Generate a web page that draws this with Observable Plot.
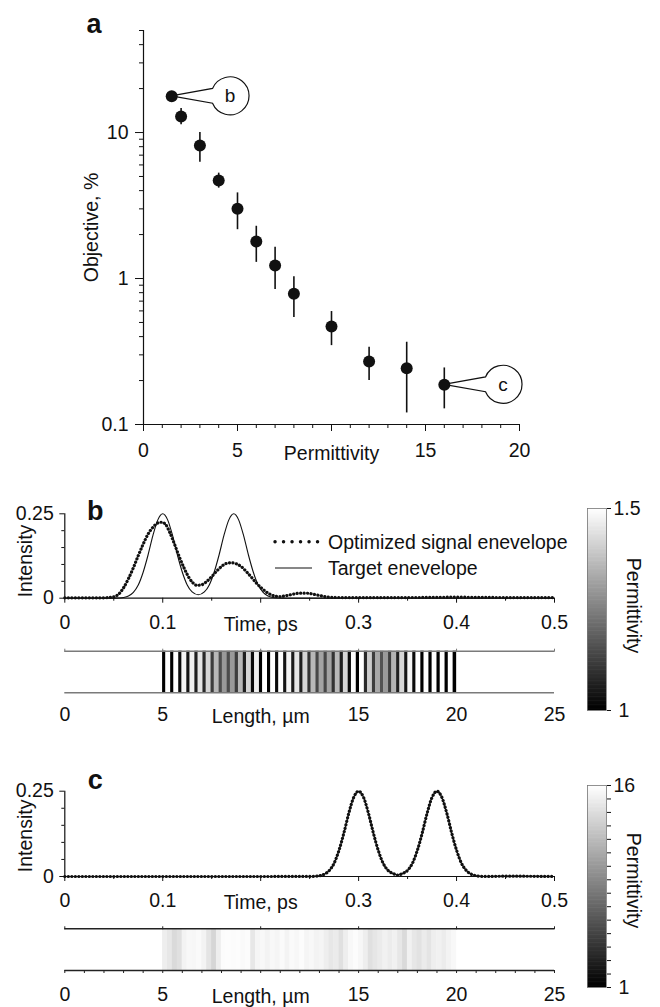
<!DOCTYPE html>
<html><head><meta charset="utf-8">
<script src="https://cdn.jsdelivr.net/npm/d3@7"></script>
<script src="https://cdn.jsdelivr.net/npm/@observablehq/plot@0.6"></script>
<style>
html,body{margin:0;padding:0;background:#fff;}
#fig{position:relative;width:660px;height:1007px;overflow:hidden;font-family:"Liberation Sans",Arial,Helvetica,sans-serif;color:#111;}
</style></head><body><div id="fig"></div>
<script>
// ---------------- DATA ----------------
// Panel a: objective vs permittivity (log scale)
const perm      = [1.5, 2, 3, 4, 5, 6, 7, 8, 10, 12, 14, 16];
const objective = [17.7, 12.9, 8.15, 4.69, 3.0, 1.79, 1.23, 0.785, 0.469, 0.270, 0.243, 0.187];
const errLow    = [null, 11.3, 6.26, 4.16, 2.16, 1.29, 0.84, 0.54, 0.347, 0.20, 0.12, 0.128];
const errHigh   = [null, 14.6, 10.0, 5.27, 3.86, 2.28, 1.64, 1.03, 0.594, 0.338, 0.366, 0.244];
const callouts  = [{label: "b", perm: 1.5, obj: 17.7, cx: 4.63}, {label: "c", perm: 16, obj: 0.187, cx: 19.15}];
const aMajorY = [0.1, 1, 10];
const aMinorY = [0.2,0.3,0.4,0.5,0.6,0.7,0.8,0.9,2,3,4,5,6,7,8,9,20,30,40,50];
const aMajorX = [0, 5, 15, 20];
const aMinorX = [1,2,3,4,6,7,8,9,11,12,13,14,16,17,18,19];

// Panel b: target and optimized envelopes
const tTargetB = [0,0.05,0.055,0.06,0.065,0.07,0.075,0.08,0.085,0.09,0.095,0.1,0.105,0.11,0.115,0.12,0.125,0.13,0.13625,0.1425,0.1475,0.1525,0.1575,0.1625,0.1675,0.1725,0.1775,0.1825,0.1875,0.1925,0.1975,0.2025,0.2075,0.2125,0.2175,0.2225,0.23,0.5];
const targetB  = [0,0.0001,0.0006,0.0022,0.0067,0.0174,0.039,0.077,0.128,0.186,0.232,0.25,0.232,0.186,0.128,0.077,0.0393,0.0186,0.0102,0.0186,0.0393,0.077,0.128,0.186,0.232,0.25,0.232,0.186,0.128,0.077,0.039,0.0174,0.0067,0.0022,0.0006,0.0001,0,0];
const tOptB = [0,0.04,0.045,0.05,0.055,0.06,0.065,0.07,0.075,0.08,0.085,0.09,0.095,0.0985,0.1025,0.107,0.112,0.117,0.122,0.127,0.131,0.135,0.14,0.145,0.15,0.155,0.16,0.165,0.17,0.175,0.18,0.185,0.19,0.195,0.2,0.205,0.21,0.215,0.22,0.225,0.23,0.235,0.24,0.245,0.25,0.255,0.26,0.265,0.27,0.28,0.3,0.35,0.4,0.45,0.5];
const optB  = [0.001,0.001,0.002,0.004,0.012,0.031,0.058,0.090,0.126,0.160,0.190,0.210,0.223,0.225,0.220,0.196,0.160,0.122,0.088,0.060,0.045,0.038,0.040,0.050,0.064,0.080,0.094,0.103,0.105,0.102,0.094,0.080,0.064,0.047,0.032,0.020,0.011,0.006,0.005,0.007,0.010,0.013,0.015,0.015,0.014,0.011,0.008,0.005,0.003,0.002,0.002,0.002,0.003,0.002,0.002];

// Panel b: layered structure (low / high permittivity layers from 5 to 20 um, ending with a low layer)
const layerStartB = 5, layerLowThick = 0.165, layerHighThick = 0.247;
const lowEpsB  = [1.0,1.0,1.02,1.04,1.06, 1.08,1.12,1.15,1.15,1.12,1.06, 1.02,1.0,1.0,1.02,1.04,1.05, 1.06,1.1,1.14,1.14,1.1,1.06, 1.02,1.0, 1.08,1.12,1.16,1.12,1.06, 1.04,1.02,1.0,1.0,1.0,1.0,1.0];
const highEpsB = [1.5,1.5,1.48,1.47,1.45, 1.42,1.36,1.3,1.3,1.36,1.42, 1.47,1.5,1.5,1.5,1.48,1.45, 1.42,1.36,1.32,1.32,1.36,1.42, 1.5,1.5, 1.4,1.33,1.3,1.35,1.42, 1.48,1.5,1.5,1.5,1.5,1.5];

// Panel c: envelope (optimized matches target)
const tC = [0,0.25,0.255,0.26,0.265,0.27,0.275,0.28,0.285,0.29,0.295,0.3,0.305,0.31,0.315,0.32,0.325,0.33,0.335,0.34,0.345,0.35,0.355,0.36,0.365,0.37,0.375,0.38,0.385,0.39,0.395,0.4,0.405,0.41,0.415,0.42,0.425,0.43,0.45,0.5];
const intC = [0,0.0001,0.0006,0.0022,0.0067,0.0174,0.039,0.077,0.128,0.186,0.232,0.25,0.232,0.186,0.128,0.077,0.0391,0.018,0.0089,0.0044,0.0089,0.018,0.0391,0.077,0.128,0.186,0.232,0.25,0.232,0.186,0.128,0.077,0.039,0.0174,0.0067,0.0022,0.0006,0.0001,0.001,0];

// Panel c: permittivity profile, 0.25 um segments from 5 to 20 um
const segStartC = 5, segThickC = 0.25;
const epsC = [15.0,14.6,13.8,14.2,15.3,15.6,15.5,15.7,15.3,14.4,13.6,15.0,15.8,15.9,15.8,15.9,15.7,15.8,14.6,15.4,
              15.6,15.3,15.6,15.4,15.7,15.3,15.7,15.5,15.8,15.4,15.6,15.3,15.4,15.0,14.6,14.8,14.2,15.0,15.6,15.8,
              15.5,15.0,14.2,14.5,14.8,15.2,14.9,15.2,14.6,13.8,15.2,14.6,14.3,14.8,14.4,15.0,15.2,14.9,15.3,15.6];

const timeTicksMajor = [0, 0.1, 0.3, 0.4, 0.5];
const timeTicksMinor = [0.05, 0.15, 0.25, 0.35, 0.45];
const lengthTicks = [0, 5, 15, 20, 25];
const lengthTop = [0, 5, 10, 15, 20, 25];
const lengthMinor = [0,1,2,3,4,5,6,7,8,9,10,11,12,13,14,15,16,17,18,19,20,21,22,23,24,25];
const intMinor = [0.05, 0.1, 0.15, 0.2];

// ---------------- HELPERS ----------------
const fig = document.getElementById("fig");
const FONT = '"Liberation Sans", Arial, Helvetica, sans-serif';
const style = {fontFamily: FONT, fontSize: "19.5px", color: "#111", background: "transparent", overflow: "visible"};
function place(node, left, top) {
  node.style.position = "absolute";
  node.style.left = left + "px";
  node.style.top = top + "px";
  fig.appendChild(node);
}
const grayInterp = t => d3.interpolateRgb("#000", "#fff")(t);
const blank = () => "";
const centered = {textAnchor: "middle", lineAnchor: "middle"};

function calloutMark(data) {
  return (index, scales) => {
    const g = d3.create("svg:g");
    const r = 19, half = 0.4;
    for (const d of data) {
      const px = scales.x(d.perm), py = scales.y(d.obj), cx = scales.x(d.cx);
      const ax = cx - r * Math.cos(half);
      const ay1 = py - r * Math.sin(half), ay2 = py + r * Math.sin(half);
      g.append("path")
        .attr("d", `M${px},${py}L${ax},${ay1}A${r},${r} 0 1 1 ${ax},${ay2}Z`)
        .attr("fill", "#fff").attr("stroke", "#111").attr("stroke-width", 1.2);
      g.append("text").attr("x", cx).attr("y", py).attr("dy", "0.35em")
        .attr("text-anchor", "middle").attr("fill", "#111").attr("font-size", 19).text(d.label);
    }
    return g.node();
  };
}

// ---------------- PANEL A ----------------
const aData = perm.map((p, i) => ({perm: p, obj: objective[i], lo: errLow[i], hi: errHigh[i]}));
const pa = Plot.plot({
  width: 560, height: 480,
  marginLeft: 143, marginRight: 41, marginTop: 30, marginBottom: 56,
  style,
  x: {domain: [0, 20], label: null},
  y: {type: "log", domain: [0.1, 50], label: null},
  marks: [
    Plot.ruleX([0], {stroke: "#111", strokeWidth: 1.2}),
    Plot.ruleY([0.1], {stroke: "#111", strokeWidth: 1.2}),
    Plot.axisY({ticks: aMajorY, tickSize: 8, tickPadding: 7, tickFormat: d => String(d), label: null}),
    Plot.axisY({ticks: aMinorY, tickSize: 4, tickFormat: blank, label: null}),
    Plot.axisX({ticks: aMajorX, tickSize: 7, tickPadding: 12, tickFormat: d => String(d), label: null}),
    Plot.axisX({ticks: [10], tickSize: 7, tickPadding: 15, tickFormat: () => "Permittivity", label: null}),
    Plot.axisX({ticks: aMinorX, tickSize: 4, tickFormat: blank, label: null}),
    Plot.text(["Objective, %"], {text: d => d, frameAnchor: "left", rotate: -90, dx: -52, ...centered}),
    Plot.text(["a"], {text: d => d, frameAnchor: "top-left", dx: -49.5, dy: -6.6, fontWeight: "bold", fontSize: 27, ...centered}),
    calloutMark(callouts),
    Plot.ruleX(aData.filter(d => d.lo != null), {x: "perm", y1: "lo", y2: "hi", stroke: "#111", strokeWidth: 1.6}),
    Plot.dot(aData, {x: "perm", y: "obj", r: 6, fill: "#111", stroke: "none"})
  ]
});
place(pa, 0, 0);

// ---------------- ENVELOPE PANELS ----------------
function envelopePlot({height, marginTop, marginBottom, lines, letter, letterDy, intensityDy}) {
  return Plot.plot({
    width: 600, height,
    marginLeft: 64.3, marginRight: 46, marginTop, marginBottom,
    style,
    x: {domain: [0, 0.5], label: null},
    y: {domain: [0, 0.25], label: null},
    marks: [
      Plot.ruleX([0], {stroke: "#111", strokeWidth: 1.2}),
      Plot.ruleY([0], {stroke: "#111", strokeWidth: 1.2}),
      Plot.axisY({ticks: [0, 0.25], tickSize: 5, tickPadding: 6, tickFormat: d => d === 0 ? "0" : "0.25", label: null}),
      Plot.axisY({ticks: intMinor, tickSize: 3, tickFormat: blank, label: null}),
      Plot.axisX({ticks: timeTicksMajor, tickSize: 5, tickPadding: 12, tickFormat: d => String(d), label: null}),
      Plot.axisX({ticks: [0.2], tickSize: 5, tickPadding: 14, tickFormat: () => "Time, ps", label: null}),
      Plot.axisX({ticks: timeTicksMinor, tickSize: 3, tickFormat: blank, label: null}),
      Plot.text(["Intensity"], {text: d => d, frameAnchor: "left", rotate: -90, dx: -39.3, dy: intensityDy, ...centered}),
      Plot.text([letter], {text: d => d, frameAnchor: "top-left", dx: 30.5, dy: letterDy, fontWeight: "bold", fontSize: 27, ...centered}),
      ...lines
    ]
  });
}

const targetBData = tTargetB.map((t, i) => ({t, v: targetB[i]}));
const optBData = tOptB.map((t, i) => ({t, v: optB[i]}));
const pb = envelopePlot({
  height: 150, marginTop: 23.3, marginBottom: 42.3, letter: "b", letterDy: -2, intensityDy: 5,
  lines: [
    Plot.line(targetBData, {x: "t", y: "v", stroke: "#111", strokeWidth: 1.1, curve: "monotone-x"}),
    Plot.line(optBData, {x: "t", y: "v", stroke: "#111", strokeWidth: 3.2, strokeDasharray: "0.1,3.4", strokeLinecap: "round", curve: "monotone-x"})
  ]
});
place(pb, 0, 490);

const cData = tC.map((t, i) => ({t, v: intC[i]}));
const pc = envelopePlot({
  height: 150, marginTop: 20.7, marginBottom: 44, letter: "c", letterDy: -11.3, intensityDy: 2,
  lines: [
    Plot.line(cData, {x: "t", y: "v", stroke: "#111", strokeWidth: 1.1, curve: "monotone-x"}),
    Plot.line(cData, {x: "t", y: "v", stroke: "#111", strokeWidth: 3.2, strokeDasharray: "0.1,3.4", strokeLinecap: "round", curve: "monotone-x"})
  ]
});
place(pc, 0, 770);

// Legend for panel b
const leg = d3.create("svg").attr("width", 320).attr("height", 52)
  .style("font-family", FONT).style("font-size", "19.5px").style("overflow", "visible");
leg.append("line").attr("x1", 5).attr("x2", 48).attr("y1", 13.7).attr("y2", 13.7)
  .attr("stroke", "#111").attr("stroke-width", 3.4).attr("stroke-linecap", "round").attr("stroke-dasharray", "0.1,8.4");
leg.append("text").attr("x", 58).attr("y", 13.7).attr("dy", "0.35em").attr("fill", "#111").text("Optimized signal enevelope");
leg.append("line").attr("x1", 5).attr("x2", 42).attr("y1", 40).attr("y2", 40)
  .attr("stroke", "#111").attr("stroke-width", 1.1);
leg.append("text").attr("x", 58).attr("y", 40).attr("dy", "0.35em").attr("fill", "#111").text("Target enevelope");
place(leg.node(), 270, 528);

// ---------------- STRIPS ----------------
const layersB = [];
{
  let x = layerStartB;
  for (let i = 0; i < lowEpsB.length; i++) {
    layersB.push({x1: x, x2: x + layerLowThick, eps: lowEpsB[i]}); x += layerLowThick;
    if (i < highEpsB.length) { layersB.push({x1: x, x2: x + layerHighThick, eps: highEpsB[i]}); x += layerHighThick; }
  }
}
const layersC = epsC.map((e, i) => ({x1: segStartC + i * segThickC, x2: segStartC + (i + 1) * segThickC, eps: e}));

function stripPlot({layers, epsDomain, height, marginTop, marginBottom, lineColor, bottomTicks, labelPad}) {
  const marks = [
    Plot.rect(layers, {x1: "x1", x2: "x2", fill: "eps", inset: 0, insetLeft: -0.15, insetRight: -0.15}),
    Plot.ruleY([0, 1], {stroke: lineColor, strokeWidth: 1.4}),
    Plot.axisX({anchor: "top", ticks: lengthTop, tickSize: 3, stroke: lineColor, tickFormat: blank, label: null}),
    Plot.axisX({anchor: "bottom", ticks: lengthTicks, tickSize: 0, tickPadding: labelPad, tickFormat: d => String(d), label: null}),
    Plot.axisX({anchor: "bottom", ticks: [10], tickSize: 0, tickPadding: labelPad + 2, tickFormat: () => "Length, \u00b5m", label: null})
  ];
  if (bottomTicks) marks.push(Plot.axisX({anchor: "bottom", ticks: lengthMinor, tickSize: 3, stroke: lineColor, tickFormat: blank, label: null}));
  return Plot.plot({
    width: 600, height,
    marginLeft: 64.3, marginRight: 46, marginTop, marginBottom,
    style,
    x: {domain: [0, 25], label: null},
    y: {domain: [0, 1], axis: null, label: null},
    color: {type: "linear", domain: epsDomain, interpolate: grayInterp},
    marks
  });
}
place(stripPlot({layers: layersB, epsDomain: [1, 1.5], height: 85, marginTop: 10.7, marginBottom: 32.7, lineColor: "#7a7a7a", bottomTicks: false, labelPad: 14.7}), 0, 640);
place(stripPlot({layers: layersC, epsDomain: [1, 16], height: 89, marginTop: 10.3, marginBottom: 37, lineColor: "#222", bottomTicks: true, labelPad: 17}), 0, 918);

// ---------------- COLORBARS ----------------
function colorbar({lo, hi, minors, labelDy}) {
  const n = 150;
  const steps = d3.range(n).map(i => ({y1: lo + (hi - lo) * i / n, y2: lo + (hi - lo) * (i + 1) / n}));
  return Plot.plot({
    width: 100, height: 222,
    marginLeft: 27, marginRight: 54, marginTop: 10, marginBottom: 10,
    style,
    x: {domain: [0, 1], axis: null},
    y: {domain: [lo, hi], label: null},
    color: {type: "linear", domain: [lo, hi], interpolate: grayInterp},
    marks: [
      Plot.rect(steps, {y1: "y1", y2: "y2", fill: d => (d.y1 + d.y2) / 2, insetTop: -0.3, insetBottom: -0.3}),
      Plot.frame({stroke: "#777", strokeWidth: 0.8}),
      Plot.axisY({anchor: "right", ticks: [hi], tickSize: 4, tickPadding: 3, tickFormat: d => String(d), label: null}),
      Plot.axisY({anchor: "right", ticks: [lo], tickSize: 4, tickPadding: 8, tickFormat: d => String(d), label: null}),
      Plot.axisY({anchor: "right", ticks: minors, tickSize: 4, tickFormat: blank, label: null}),
      Plot.text(["Permittivity"], {text: d => d, frameAnchor: "right", rotate: 90, dx: 27, dy: labelDy, ...centered})
    ]
  });
}
place(colorbar({lo: 1, hi: 1.5, minors: [], labelDy: -4}), 560, 498);
place(colorbar({lo: 1, hi: 16, minors: [2,3,4,5,6,7,8,9,10,11,12,13,14,15], labelDy: -6}), 560, 775);
</script></body></html>
